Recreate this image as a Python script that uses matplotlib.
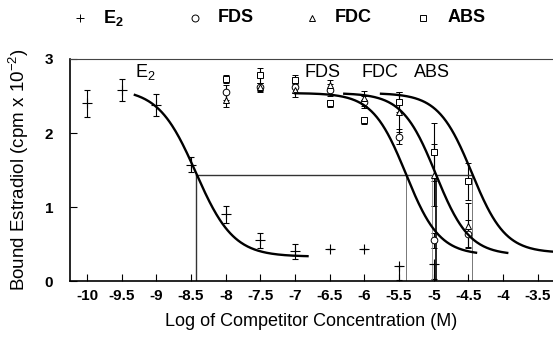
import numpy as np
import matplotlib
matplotlib.use("Agg")
import matplotlib.pyplot as plt
from matplotlib.lines import Line2D

plt.rcParams['font.family'] = ['Liberation Sans', 'DejaVu Sans']

# log concentrations (M)
conc = [-10, -9.5, -9, -8.5, -8, -7.5, -7, -6.5, -6, -5.5, -5]
e2 = [2.40, 2.58, 2.38, 1.57, 0.90, 0.55, 0.40, 0.43, 0.43, 0.20, 0.23]
e2_err_lo = [0.18, 0.15, 0.15, 0.10, 0.12, 0.10, 0.10, 0, 0, 0.18, 0.2]
e2_err_hi = [0.18, 0.15, 0.15, 0.10, 0.12, 0.10, 0.10, 0, 0, 0, 0]

conc2 = [-8, -7.5, -7, -6.5, -6, -5.5, -5, -4.5]
fds = [2.55, 2.62, 2.62, 2.58, 2.42, 1.95, 0.55, 0.64]
fds_err = [0.1, 0.05, 0.08, 0.08, 0.08, 0.1, 0.1, 0.18]
fdc = [2.45, 2.62, 2.58, 2.65, 2.47, 2.28, 1.43, 0.75]
fdc_err = [0.1, 0.06, 0.1, 0.07, 0.1, 0.27, 0.42, 0.3]
abs_ = [2.73, 2.78, 2.72, 2.40, 2.17, 2.42, 1.74, 1.35]
abs_err = [0.05, 0.1, 0.06, 0.05, 0.05, 0.13, 0.39, 0.25]

# fitted curves: top, bottom, log IC50, slope, x range
fit_names = ['E2', 'FDS', 'FDC', 'ABS']
fit_top = [2.6, 2.54, 2.54, 2.54]
fit_bottom = [0.33, 0.35, 0.35, 0.38]
fit_ic50 = [-8.43, -5.40, -4.97, -4.45]
fit_slope = [1.6, 1.8, 1.8, 1.8]
fit_start = [-9.31, -7.0, -6.29, -5.76]
fit_end = [-6.82, -4.39, -3.94, -3.2]
half_y = 1.43

label_x = [-9.31, -6.86, -6.04, -5.28]
label_txt = ['E$_\\mathregular{2}$', 'FDS', 'FDC', 'ABS']
markers = ['+', 'o', '^', 's']

fig = plt.figure(figsize=(5.53, 3.39), dpi=100)
ax = fig.add_axes([0.1266, 0.171, 0.8734, 0.655])

ekw = dict(ecolor='black', elinewidth=0.8, capsize=2.2, capthick=0.8, linestyle='none')
ax.errorbar(conc, e2, yerr=[e2_err_lo, e2_err_hi], marker='+', ms=7, mew=0.8,
            color='black', **ekw)
ax.errorbar(conc2, fds, yerr=fds_err, marker='o', ms=4.8, mew=0.7, mfc='white',
            color='black', **ekw)
ax.errorbar(conc2, fdc, yerr=fdc_err, marker='^', ms=4.8, mew=0.7, mfc='white',
            color='black', **ekw)
ax.errorbar(conc2, abs_, yerr=abs_err, marker='s', ms=4.8, mew=0.7, mfc='white',
            color='black', **ekw)

for i in range(len(fit_names)):
    xs = np.linspace(fit_start[i], fit_end[i], 200)
    ys = fit_bottom[i] + (fit_top[i] - fit_bottom[i]) / (1 + 10 ** ((xs - fit_ic50[i]) * fit_slope[i]))
    ax.plot(xs, ys, color='black', lw=1.7, zorder=4)
    ax.text(label_x[i], 2.82, label_txt[i], fontsize=13, va='center', ha='left')

# IC50 guide lines
ax.plot([fit_ic50[0], fit_ic50[3]], [half_y, half_y], color='#333333', lw=1.0)
ax.plot([fit_ic50[0], fit_ic50[0]], [0, half_y], color='#333333', lw=1.0)
ax.plot([fit_ic50[1], fit_ic50[1]], [0, half_y], color='#777777', lw=0.7)
ax.plot([-5.02, -5.02], [0, half_y], color='#888888', lw=0.6)
ax.plot([fit_ic50[2], fit_ic50[2]], [0, half_y], color='black', lw=1.2)
ax.plot([fit_ic50[3], fit_ic50[3]], [0, half_y], color='#777777', lw=0.7)

ax.set_xlim(-10.245, -3.28)
ax.set_ylim(0, 3)
xt = np.arange(-10, -3.4, 0.5)
ax.set_xticks(xt)
ax.set_xticklabels(['{:g}'.format(v) for v in xt], fontweight='bold', fontsize=11)
ax.set_yticks([0, 1, 2, 3])
ax.set_yticklabels(['0', '1', '2', '3'], fontweight='bold', fontsize=11)
ax.tick_params(direction='in', length=5, width=0.8)
ax.tick_params(axis='x', pad=6)
ax.tick_params(axis='y', pad=12)
ax.spines['right'].set_visible(False)
ax.spines['left'].set_linewidth(1.2)
ax.spines['bottom'].set_linewidth(1.2)
ax.spines['top'].set_linewidth(0.8)
ax.spines['top'].set_color('#444444')

ax.set_xlabel('Log of Competitor Concentration (M)', fontsize=13, labelpad=7)
ax.set_ylabel('Bound Estradiol (cpm x 10$^{\\mathregular{-2}}$)', fontsize=13.5, labelpad=10)

# legend row across the top
leg_mx = [80, 195, 312, 423]
leg_tx = [103, 218, 335, 448]
leg_txt = ['E$_\\mathregular{2}$', 'FDS', 'FDC', 'ABS']
W, H = 553.0, 339.0
for i in range(4):
    fig.add_artist(Line2D([leg_mx[i] / W], [1 - 18 / H], marker=markers[i], ms=5 if i else 6,
                          mew=0.7, mfc='white', color='black', linestyle='none',
                          transform=fig.transFigure))
    fig.text(leg_tx[i] / W, 1 - 18 / H, leg_txt[i], fontsize=13, fontweight='bold',
             va='center', ha='left')

fig.savefig('out.png', dpi=100)
